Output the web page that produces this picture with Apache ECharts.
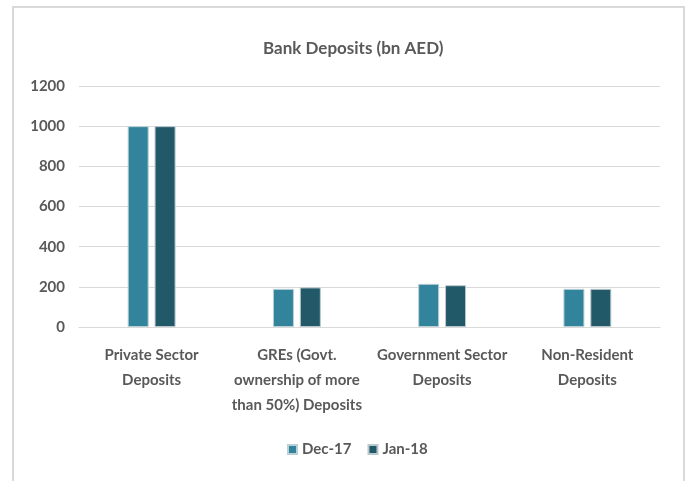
<!DOCTYPE html>
<html>
<head>
<meta charset="utf-8">
<script src="https://cdn.jsdelivr.net/npm/echarts@6/dist/echarts.min.js"></script>
<style>html,body{margin:0;padding:0;background:#fff}#c{width:686px;height:481px}</style>
</head>
<body>
<div id="c"></div>
<script>
var categories = ['Private Sector\nDeposits', 'GREs (Govt.\nownership of more\nthan 50%) Deposits', 'Government Sector\nDeposits', 'Non-Resident\nDeposits'];
var seriesNames = ['Dec-17', 'Jan-18'];
var dec17 = [1000, 190, 215, 190];
var jan18 = [1000, 197, 208, 190];
var yTicks = {min: 0, max: 1200, interval: 200};

var FONT = 'Lato';
var TXT = '#595959';
var chart = echarts.init(document.getElementById('c'));
chart.setOption({
  animation: false,
  backgroundColor: '#fff',
  title: {
    text: 'Bank Deposits (bn AED)',
    left: 258, top: 35,
    textStyle: {fontFamily: FONT, fontSize: 17, fontWeight: 'bold', color: TXT}
  },
  graphic: [{
    type: 'rect', shape: {x: 13, y: 7, width: 671, height: 490},
    style: {fill: 'none', stroke: '#d9d9d9', lineWidth: 2}, silent: true
  }],
  legend: {
    data: seriesNames, bottom: 19, left: 282,
    icon: 'rect', itemWidth: 9, itemHeight: 9, itemGap: 16,
    textStyle: {fontFamily: FONT, fontSize: 15, fontWeight: 'bold', color: TXT}
  },
  grid: {left: 79, right: 26, top: 86, bottom: 154},
  xAxis: {
    type: 'category', data: categories,
    axisLine: {lineStyle: {color: '#d9d9d9', width: 1}},
    axisTick: {show: false},
    axisLabel: {fontFamily: FONT, fontSize: 15, fontWeight: 'bold', color: TXT, lineHeight: 25, margin: 16, interval: 0}
  },
  yAxis: {
    type: 'value', min: yTicks.min, max: yTicks.max, interval: yTicks.interval,
    axisLine: {show: false}, axisTick: {show: false},
    splitLine: {lineStyle: {color: '#d9d9d9', width: 1}},
    axisLabel: {fontFamily: FONT, fontSize: 15, fontWeight: 'bold', color: TXT, margin: 14,
      formatter: function (v) { return String(v); }}
  },
  series: [
    {name: seriesNames[0], type: 'bar', data: dec17, barWidth: 21, barGap: '28%',
     itemStyle: {color: '#31849b', borderColor: '#b9d0d6', borderWidth: 1}},
    {name: seriesNames[1], type: 'bar', data: jan18, barWidth: 21,
     itemStyle: {color: '#215968', borderColor: '#b9c8cc', borderWidth: 1}}
  ]
});
</script>
</body>
</html>
